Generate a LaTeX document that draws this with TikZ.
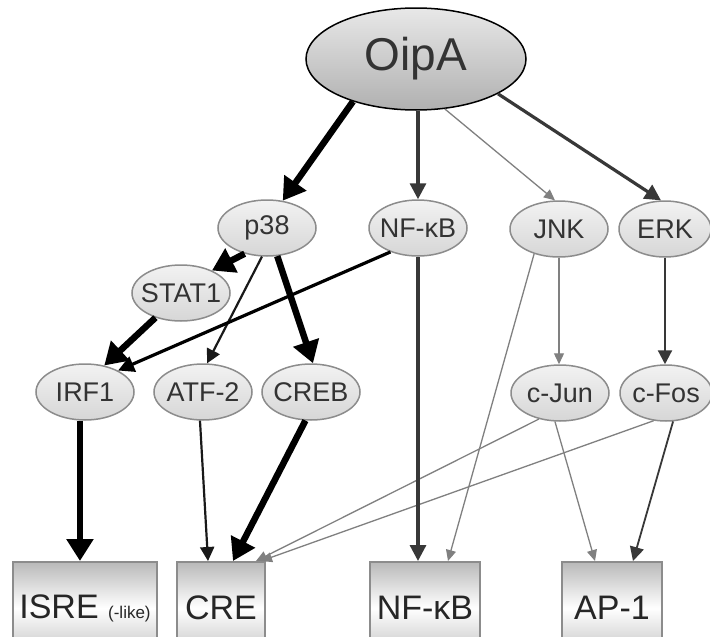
\documentclass[tikz,border=0pt]{standalone}
\usepackage{fontspec}
\setmainfont{Liberation Sans}
\usetikzlibrary{shapes.geometric,arrows.meta}
\definecolor{inkgray}{gray}{0.2}
\definecolor{rimgray}{gray}{0.55}
\definecolor{darkline}{gray}{0.22}
\definecolor{paleline}{gray}{0.5}
\newcommand{\lbl}[1]{\makebox[0pt]{#1}}

\begin{document}
\begin{tikzpicture}[x=1pt,y=-1pt,
    kinase/.style={ellipse,draw=rimgray,line width=1.5pt,top color=gray!10,bottom color=gray!32,
      minimum width=98pt,minimum height=56pt,inner sep=0pt,text=inkgray,font=\fontsize{27}{27}\selectfont},
    site/.style={rectangle,draw=rimgray,line width=2pt,top color=gray!55,bottom color=gray!45,middle color=white,
      anchor=north,minimum height=92pt,inner sep=0pt,text=black!85,font=\fontsize{34}{34}\selectfont},
    heavy/.style={line width=6.5pt,-{Triangle[length=22pt,width=26pt]}},
    strong/.style={line width=3.2pt,darkline,-{Triangle[length=16pt,width=16pt]}},
    plain/.style={line width=2.2pt,black!90,-{Triangle[length=14pt,width=14pt]}},
    faint/.style={line width=1.3pt,paleline,-{Triangle[length=11pt,width=10pt]}}]
  \clip (0,0) rectangle (710,637);
  \fill[white] (0,0) rectangle (710,637);

  % source
  \node[ellipse,draw=black,line width=1.5pt,top color=gray!18,bottom color=gray!62,
    minimum width=220pt,minimum height=102pt,inner sep=0pt,text=inkgray,
    font=\fontsize{46}{46}\selectfont] (oipa) at (416,59) {OipA};

  % kinases and factors
  \node[kinase] (p38) at (267,228) {\lbl{p38}};
  \node[kinase] (nfkb) at (418,228) {\lbl{NF-κB}};
  \node[kinase] (jnk) at (559,229) {\lbl{JNK}};
  \node[kinase,minimum width=92pt] (erk) at (665,229) {\lbl{ERK}};
  \node[kinase] (stat1) at (181,293) {\lbl{STAT1}};
  \node[kinase] (irf1) at (85,392) {\lbl{IRF1}};
  \node[kinase] (atf2) at (203,392) {\lbl{ATF-2}};
  \node[kinase] (creb) at (311,392) {\lbl{CREB}};
  \node[kinase] (cjun) at (560,393) {\lbl{c-Jun}};
  \node[kinase,minimum width=92pt] (cfos) at (666,393) {\lbl{c-Fos}};

  % promoter sites
  \node[site,minimum width=144pt] (isre) at (85,561) {ISRE {\fontsize{17}{17}\selectfont(-like)}};
  \node[site,minimum width=88pt] (cre) at (221,561) {CRE};
  \node[site,minimum width=110pt] (nfkbbox) at (425,561) {NF-κB};
  \node[site,minimum width=100pt] (ap1) at (612,561) {AP-1};

  % OipA signalling
  \draw[heavy] (oipa.214) -- (p38.60);
  \draw[strong] (oipa.south -| nfkb.north) -- (nfkb.north);
  \draw[faint] (oipa.300) -- (jnk.98);
  \draw[strong] (oipa.337) -- (erk.98);

  \draw[heavy] (p38.229) -- (stat1.36);
  \draw[plain] (p38.260) -- (atf2.82);
  \draw[heavy] (p38.290) -- (creb.86);
  \draw[strong,black] (nfkb.221) -- (irf1.33);
  \draw[heavy] (stat1.224) -- (irf1.54);
  \draw[faint] (jnk.south) -- (jnk.south |- cjun.north);
  \draw[plain,darkline] (erk.south) -- (erk.south |- cfos.north);

  % onto the sites
  \draw[heavy] (irf1.260) -- (irf1.260 |- isre.north);
  \draw[plain] (atf2.264) -- ([xshift=-13pt]cre.north);
  \draw[heavy] (creb.259) -- ([xshift=12pt]cre.north);
  \draw[faint] (cjun.231) -- ([xshift=35pt]cre.north);
  \draw[faint] (cfos.246) -- ([xshift=40pt]cre.north);
  \draw[strong] (nfkb.south) -- (nfkb.south |- nfkbbox.north);
  \draw[faint] (jnk.225) -- ([xshift=23pt]nfkbbox.north);
  \draw[faint] (cjun.260) -- ([xshift=-17pt]ap1.north);
  \draw[plain,darkline,line width=1.8pt] (cfos.284) -- ([xshift=21pt]ap1.north);
\end{tikzpicture}
\end{document}
